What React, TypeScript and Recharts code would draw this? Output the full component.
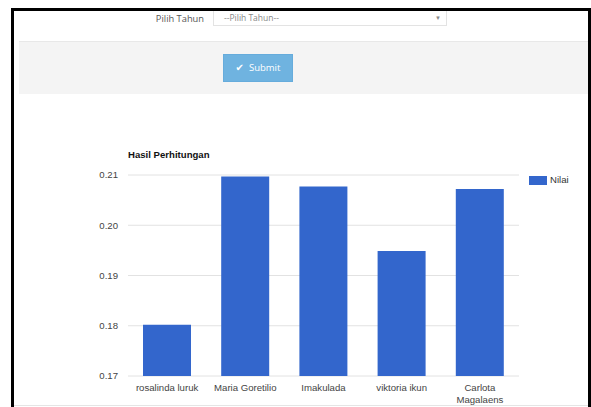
import React from 'react';
import { BarChart, Bar, XAxis, YAxis, CartesianGrid, Legend } from 'recharts';

// data
const names = ['rosalinda luruk', 'Maria Goretilio', 'Imakulada', 'viktoria ikun', 'Carlota Magalaens'];
const nilai = [0.1802, 0.2097, 0.2077, 0.1949, 0.2072];
const yTicks = [0.17, 0.18, 0.19, 0.2, 0.21];

const chartData = names.map((n, i) => ({ name: n, Nilai: nilai[i] }));

const FONT = '"Liberation Sans", Arial, sans-serif';
const FORM_FONT = '"Open Sans", "Liberation Sans", sans-serif';
const TICK_SIZE = 9.6;

// wrap a label into lines that fit in maxWidth px
let ctx: CanvasRenderingContext2D | null = null;
const wrapLabel = (label: string, maxWidth: number) => {
  if (!ctx) ctx = document.createElement('canvas').getContext('2d');
  if (ctx) ctx.font = `${TICK_SIZE}px ${FONT}`;
  const measure = (s: string) => (ctx ? ctx.measureText(s).width : s.length * 5);
  const lines: string[] = [];
  let cur = '';
  label.split(' ').forEach((w) => {
    const next = cur ? cur + ' ' + w : w;
    if (cur && measure(next) > maxWidth) {
      lines.push(cur);
      cur = w;
    } else cur = next;
  });
  if (cur) lines.push(cur);
  return lines;
};

const XTick = (props: any) => {
  const { x, y, payload } = props;
  const lines = wrapLabel(String(payload.value), 76);
  return (
    <text x={x} y={y} textAnchor="middle" fontSize={TICK_SIZE} fontFamily={FONT} fill="#444">
      {lines.map((l, i) => (
        <tspan key={i} x={x} dy={i === 0 ? 6 : 12}>
          {l}
        </tspan>
      ))}
    </text>
  );
};

const renderLegend = (props: any) => (
  <div>
    {(props.payload || []).map((p: any) => (
      <div key={p.value} style={{ display: 'flex', alignItems: 'center', height: 10 }}>
        <span style={{ display: 'inline-block', width: 18, height: 9, background: p.color }} />
        <span style={{ marginLeft: 3, fontSize: 9.6, fontFamily: FONT, color: '#333', lineHeight: '10px' }}>
          {p.value}
        </span>
      </div>
    ))}
  </div>
);

export default function App() {
  return (
    <div style={{ position: 'absolute', left: 0, top: 0, width: 591, height: 407, overflow: 'hidden', background: '#fff' }}>
      {/* form area */}
      <div style={{ position: 'absolute', left: 120, top: 12, width: 84, textAlign: 'right', fontFamily: FORM_FONT, fontSize: 9.3, lineHeight: '14px', color: '#555' }}>
        Pilih Tahun
      </div>
      <div style={{ position: 'absolute', left: 213, top: 9, width: 234, height: 17, boxSizing: 'border-box', border: '1px solid #e3e3e3', background: '#fff' }}>
        <span style={{ position: 'absolute', left: 10, top: 1, fontFamily: FORM_FONT, fontSize: 8.5, lineHeight: '14px', color: '#888' }}>
          --Pilih Tahun--
        </span>
        <span style={{ position: 'absolute', right: 5, top: 2, fontFamily: FONT, fontSize: 6, lineHeight: '12px', color: '#888' }}>
          ▼
        </span>
      </div>
      <div style={{ position: 'absolute', left: 19, top: 41, width: 570, height: 53, boxSizing: 'border-box', background: '#f4f4f4', borderTop: '1px solid #e8e8e8' }} />
      <div style={{ position: 'absolute', left: 223, top: 54, width: 70, height: 28, boxSizing: 'border-box', background: '#6fb3e0', border: '1px solid #66acdc', color: '#fff', fontFamily: FORM_FONT, fontSize: 9.5, lineHeight: '26px', textAlign: 'center' }}>
        <span style={{ fontFamily: '"DejaVu Sans", sans-serif', fontSize: 10, marginRight: 5 }}>✔</span>Submit
      </div>

      {/* chart */}
      <div style={{ position: 'absolute', left: 0, top: 0 }}>
        <BarChart width={591} height={407} data={chartData} margin={{ top: 175, right: 72, bottom: 0, left: 0 }}>
          <CartesianGrid vertical={false} stroke="#e2e2e2" />
          <XAxis dataKey="name" height={31} axisLine={false} tickLine={false} interval={0} tickMargin={3} tick={<XTick />} />
          <YAxis
            type="number"
            width={128}
            domain={[0.17, 0.21]}
            ticks={yTicks}
            axisLine={false}
            tickLine={false}
            tickMargin={4}
            tickFormatter={(v: number) => v.toFixed(2)}
            tick={{ fontSize: TICK_SIZE, fontFamily: FONT, fill: '#444' }}
          />
          <Legend
            layout="horizontal"
            verticalAlign="middle"
            align="center"
            wrapperStyle={{ left: 529, top: 175, width: 60 }}
            content={renderLegend}
          />
          <Bar dataKey="Nilai" fill="#3366cc" barSize={48} isAnimationActive={false} />
        </BarChart>
      </div>

      <div style={{ position: 'absolute', left: 128, top: 149, fontFamily: FONT, fontSize: 9.6, fontWeight: 'bold', lineHeight: '12px', color: '#111' }}>
        Hasil Perhitungan
      </div>

      <div style={{ position: 'absolute', left: 13, top: 405, width: 575, height: 1, background: '#e5e5e5' }} />

      {/* black frame of the screenshot */}
      <div style={{ position: 'absolute', left: 11, top: 8, width: 580, height: 420, boxSizing: 'border-box', border: '3px solid #000', borderBottom: 'none', pointerEvents: 'none' }} />
    </div>
  );
}
